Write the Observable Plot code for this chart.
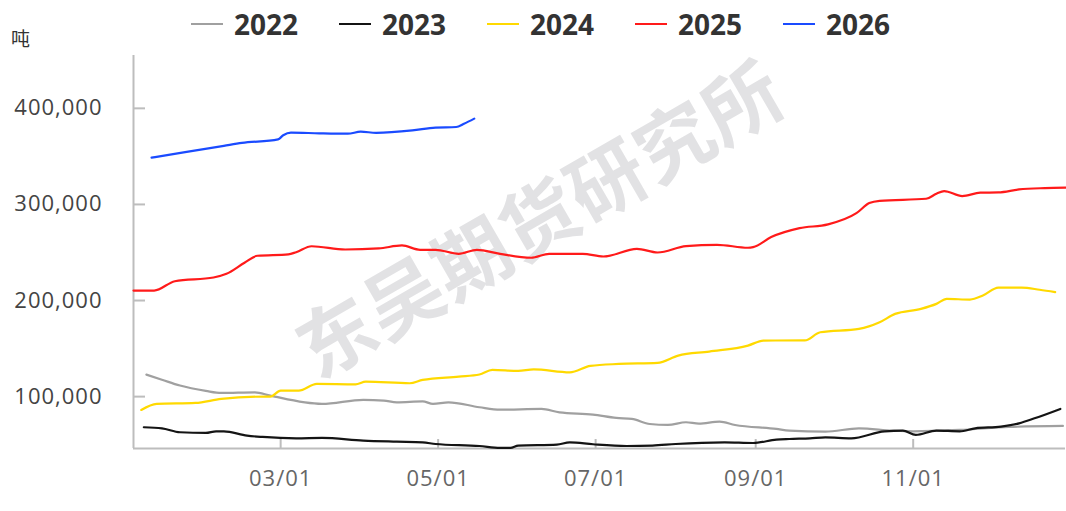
<!DOCTYPE html>
<html>
<head>
<meta charset="utf-8">
<script src="https://cdn.jsdelivr.net/npm/d3@7"></script>
<script src="https://cdn.jsdelivr.net/npm/@observablehq/plot@0.6"></script>
<style>
  html, body { margin: 0; padding: 0; background: #fff; }
  #wrap { position: relative; width: 1066px; height: 511px; overflow: hidden; font-family: "Open Sans", "Noto Sans", sans-serif; }
  #wrap svg { position: absolute; left: 0; top: 0; }
  #wrap svg text { letter-spacing: 1px; }
  #unit { position: absolute; left: 11px; top: 26px; font-size: 19px; color: #333; font-family: "Noto Sans CJK SC", sans-serif; line-height: 24px; }
  #legend { position: absolute; left: 191px; top: 4px; height: 40px; display: flex; align-items: center; z-index: 2; }
  .item { display: flex; align-items: center; width: 148px; }
  .sw { width: 32px; height: 2.5px; margin-right: 11px; }
  .lab { font-size: 28px; font-weight: 700; color: #333; line-height: 40px; }
</style>
</head>
<body>
<div id="wrap">
  <div id="unit">吨</div>
  <div id="legend"></div>
</div>
<script>
const seriesNames = ["2022", "2023", "2024", "2025", "2026"];
const seriesColors = ["#a0a0a0", "#141414", "#ffd900", "#ff1a1a", "#1a4bff"];

const dates2022 = ["01-08","01-14","01-21","01-31","02-06","02-19","02-25","03-17","04-02","04-10","04-15","04-25","04-29","05-05","05-17","05-25","06-10","06-17","06-30","07-09","07-15","07-22","07-29","08-05","08-10","08-18","08-24","09-09","09-14","09-28","10-11","10-24","11-01","11-19","12-08","12-29"];
const values2022 = [122900,117600,111500,106000,103800,104500,101000,92400,96600,95800,94100,95100,92400,94100,88900,86400,87200,83600,81300,77800,76800,71500,70500,73300,71900,73900,70500,66400,64600,63500,67000,64600,63900,65300,68400,69500];

const dates2023 = ["01-07","01-14","01-21","01-31","02-04","02-07","02-16","02-22","03-07","03-17","04-02","04-15","04-25","04-30","05-17","05-25","05-29","06-01","06-16","06-21","06-30","07-13","07-23","08-01","08-20","08-31","09-09","09-14","09-22","09-28","10-08","10-21","10-28","11-02","11-10","11-19","11-25","12-05","12-12","12-18","12-28"];
const values2023 = [68100,67000,62900,62200,63900,63900,59400,58000,56600,57000,54200,53100,52400,50700,48600,46600,46600,49000,50000,52400,50400,48600,49000,50700,52400,51700,55200,55900,56600,57600,56600,63900,64600,60100,64600,63900,67000,68800,72200,77400,87200];

const dates2024 = ["01-06","01-12","01-27","02-06","02-23","02-25","03-01","03-08","03-15","03-30","04-03","04-20","04-25","05-09","05-17","05-22","06-01","06-07","06-21","06-29","07-10","07-25","08-02","08-14","08-29","09-04","09-20","09-26","10-11","10-19","10-25","11-04","11-10","11-14","11-23","11-28","12-04","12-13","12-20","12-26"];
const values2024 = [86100,92400,93400,97600,100000,100000,106200,106200,113200,112800,115600,113900,117400,120800,123000,127800,126700,128400,125300,132000,134000,135100,142700,146900,153100,158300,158500,167000,170500,177400,186100,191300,196500,201700,201000,205200,213500,213500,211200,208700];

const dates2025 = ["01-03","01-11","01-19","02-03","02-08","02-15","02-20","03-04","03-07","03-13","03-26","04-08","04-17","04-24","04-30","05-09","05-16","05-25","06-06","06-13","06-26","07-04","07-17","07-25","08-05","08-17","08-29","08-31","09-07","09-18","09-29","10-10","10-15","10-19","11-06","11-10","11-13","11-20","11-27","12-04","12-12","12-22","12-30"];
const values2025 = [210400,210400,220100,224000,227800,239300,246600,248000,250300,256500,253100,254200,257300,252800,252800,248600,252800,248600,244500,248600,248600,245800,253800,250000,256600,258000,254900,255500,266000,275300,279200,290900,301400,303800,305900,311100,313900,308700,312200,312500,315600,317000,317500];

const dates2026 = ["01-10","01-23","02-07","02-14","02-28","03-02","03-05","03-16","03-27","04-01","04-07","04-21","04-30","05-08","05-11","05-15"];
const values2026 = [348700,354500,361000,364000,367700,372000,374700,374000,373600,375700,374500,377000,380000,380600,384000,389300];

const yTicks = [100000, 200000, 300000, 400000];
const xTickLabels = ["03-01", "05-01", "07-01", "09-01", "11-01"];
const unitLabel = "吨";
const watermark = "东吴期货研究所";

const parse = md => d3.utcParse("%Y-%m-%d")("2001-" + md);
const allDates = [dates2022, dates2023, dates2024, dates2025, dates2026];
const allValues = [values2022, values2023, values2024, values2025, values2026];
const rows = [];
seriesNames.forEach((s, i) => {
  allDates[i].forEach((d, j) => rows.push({series: s, date: parse(d), value: allValues[i][j]}));
});
const xTicks = xTickLabels.map(parse);

const W = 1066, H = 511, mL = 133, mR = 1, mT = 55, mB = 63;
const xDomain = [parse("01-03"), parse("12-30")];
const yDomain = [46000, 455000];

const chart = Plot.plot({
  width: W, height: H,
  marginLeft: mL, marginRight: mR, marginTop: mT, marginBottom: mB,
  style: {fontFamily: "'Open Sans', 'Noto Sans', sans-serif", background: "transparent"},
  x: {type: "utc", domain: xDomain},
  y: {domain: yDomain},
  color: {domain: seriesNames, range: seriesColors},
  marks: [
    Plot.text([watermark], {frameAnchor: "middle", dx: -58, dy: -29, rotate: -30, fontSize: 77, fontWeight: "bold", fill: "#e2e2e4", fontFamily: "'Noto Sans CJK SC', sans-serif"}),
    Plot.ruleX([xDomain[0]], {stroke: "#bdbdbd", strokeWidth: 2}),
    Plot.ruleY([yDomain[0]], {stroke: "#bdbdbd", strokeWidth: 2}),
    Plot.tickY(yTicks, {y: d => d, insetRight: W - mL - mR - 12, stroke: "#bdbdbd", strokeWidth: 2}),
    Plot.tickX(xTicks, {x: d => d, insetTop: H - mT - mB - 9, stroke: "#bdbdbd", strokeWidth: 2}),
    Plot.axisY({ticks: yTicks, tickSize: 0, tickPadding: 31, tickFormat: d3.format(","), fontSize: 22, fill: "#444", label: null}),
    Plot.axisX({ticks: xTicks, tickSize: 0, tickPadding: 22, tickFormat: d3.utcFormat("%m/%d"), fontSize: 22, fill: "#666", label: null}),
    Plot.lineY(rows, {x: "date", y: "value", z: "series", stroke: "series", strokeWidth: 2.2, curve: "monotone-x"})
  ]
});
document.getElementById("wrap").appendChild(chart);
document.getElementById("unit").textContent = unitLabel;

const legend = document.getElementById("legend");
seriesNames.forEach((s, i) => {
  const item = document.createElement("div");
  item.className = "item";
  const sw = document.createElement("div");
  sw.className = "sw";
  sw.style.background = seriesColors[i];
  const lab = document.createElement("span");
  lab.className = "lab";
  lab.textContent = s;
  item.appendChild(sw);
  item.appendChild(lab);
  legend.appendChild(item);
});
</script>
</body>
</html>
